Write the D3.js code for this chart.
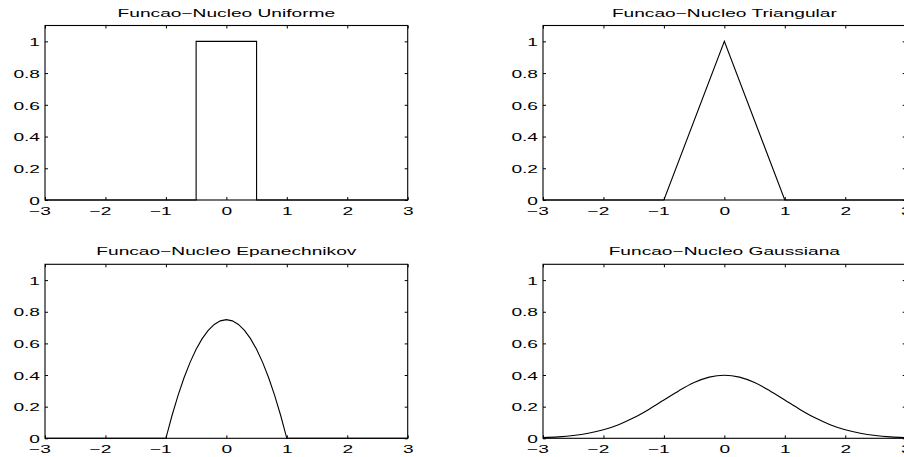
<!DOCTYPE html>
<html>
<head>
<meta charset="utf-8">
<script src="https://cdn.jsdelivr.net/npm/d3@7"></script>
<style>
  html, body { margin: 0; padding: 0; background: #fff; }
  svg { display: block; }
  text { font-family: "Liberation Sans", Arial, Helvetica, sans-serif; font-size: 11.5px; fill: #000; }
</style>
</head>
<body>
<svg id="chart" width="904" height="457"></svg>
<script>
// ---- data ----
const xTicks = [-3, -2, -1, 0, 1, 2, 3];
const yTicks = [0, 0.2, 0.4, 0.6, 0.8, 1];
const titles = ["Funcao\u2212Nucleo Uniforme", "Funcao\u2212Nucleo Triangular",
                "Funcao\u2212Nucleo Epanechnikov", "Funcao\u2212Nucleo Gaussiana"];

const uniformX = [-3, -0.5, -0.5, 0.5, 0.5, 3];
const uniformY = [0, 0, 1, 1, 0, 0];

const triangX = [-3, -1, 0, 1, 3];
const triangY = [0, 0, 1, 0, 0];

const epanX = [-3, -1, -0.9, -0.8, -0.7, -0.6, -0.5, -0.4, -0.3, -0.2, -0.1, 0,
               0.1, 0.2, 0.3, 0.4, 0.5, 0.6, 0.7, 0.8, 0.9, 1, 3];
const epanY = [0, 0, 0.1425, 0.27, 0.3825, 0.48, 0.5625, 0.63, 0.6825, 0.72, 0.7425, 0.75,
               0.7425, 0.72, 0.6825, 0.63, 0.5625, 0.48, 0.3825, 0.27, 0.1425, 0, 0];

const gaussX = [-3, -2.75, -2.5, -2.25, -2, -1.75, -1.5, -1.25, -1, -0.75, -0.5, -0.25, 0,
                0.25, 0.5, 0.75, 1, 1.25, 1.5, 1.75, 2, 2.25, 2.5, 2.75, 3];
const gaussY = [0.0044, 0.0091, 0.0175, 0.0317, 0.0540, 0.0863, 0.1295, 0.1826, 0.2420, 0.3011, 0.3521, 0.3867, 0.3989,
                0.3867, 0.3521, 0.3011, 0.2420, 0.1826, 0.1295, 0.0863, 0.0540, 0.0317, 0.0175, 0.0091, 0.0044];

const seriesX = [uniformX, triangX, epanX, gaussX];
const seriesY = [uniformY, triangY, epanY, gaussY];
const smooth = [false, false, false, true];

// ---- layout ----
const cols = [[45, 407.7], [543, 905.7]];
const rows = [[25.5, 200], [264.3, 438.3]];
const SX = 1.665;   // horizontal text stretch seen in the reference
const TICK = 3;

const svg = d3.select("#chart");

for (let i = 0; i < 4; i++) {
  const [x0, x1] = cols[i % 2];
  const [y0, y1] = rows[Math.floor(i / 2)];
  const x = d3.scaleLinear().domain([-3, 3]).range([x0, x1]);
  const y = d3.scaleLinear().domain([0, 1.1]).range([y1, y0]);
  const g = svg.append("g");

  // bottom axis with labels
  const gb = g.append("g").attr("transform", `translate(0,${y1})`)
    .call(d3.axisBottom(x).tickValues(xTicks).tickSizeInner(-TICK).tickSizeOuter(0));
  gb.selectAll(".tick text").each(function(d) {
    const t = d3.select(this);
    t.attr("dy", null).attr("y", null)
     .attr("text-anchor", d < 0 ? "end" : "middle")
     .attr("transform", `translate(0,14.8) scale(${SX},1)`)
     .attr("x", d < 0 ? 3.2 : 0)
     .text(d < 0 ? "\u2212" + Math.abs(d) : String(d));
  });
  // left axis with labels
  const gl = g.append("g").attr("transform", `translate(${x0},0)`)
    .call(d3.axisLeft(y).tickValues(yTicks).tickSizeInner(-TICK).tickSizeOuter(0)
      .tickFormat(d => d === 0 ? "0" : d === 1 ? "1" : d3.format(".1f")(d)));
  gl.selectAll(".tick text").each(function() {
    d3.select(this).attr("x", null).attr("dy", null).attr("y", null)
      .attr("text-anchor", "end")
      .attr("transform", `translate(-5,4.2) scale(${SX},1)`);
  });
  // top and right ticks (no labels)
  g.append("g").attr("transform", `translate(0,${y0})`)
    .call(d3.axisTop(x).tickValues(xTicks).tickSizeInner(-TICK).tickSizeOuter(0).tickFormat(""));
  g.append("g").attr("transform", `translate(${x1},0)`)
    .call(d3.axisRight(y).tickValues(yTicks).tickSizeInner(-TICK).tickSizeOuter(0).tickFormat(""));

  g.selectAll(".domain").remove();
  g.selectAll(".tick line").attr("stroke", "#000");

  // data line
  const pts = seriesX[i].map((v, k) => [v, seriesY[i][k]]);
  g.append("path").datum(pts)
    .attr("fill", "none").attr("stroke", "#000").attr("stroke-width", 1.1)
    .attr("d", d3.line().x(d => x(d[0])).y(d => y(d[1]))
      .curve(smooth[i] ? d3.curveMonotoneX : d3.curveLinear));

  // box
  g.append("rect").attr("x", x0).attr("y", y0).attr("width", x1 - x0).attr("height", y1 - y0)
    .attr("fill", "none").attr("stroke", "#000").attr("stroke-width", 1.1);

  // title
  g.append("text")
    .attr("text-anchor", "middle")
    .attr("transform", `translate(${(x0 + x1) / 2},${y0 - 9}) scale(${SX},1)`)
    .text(titles[i]);
}
</script>
</body>
</html>
